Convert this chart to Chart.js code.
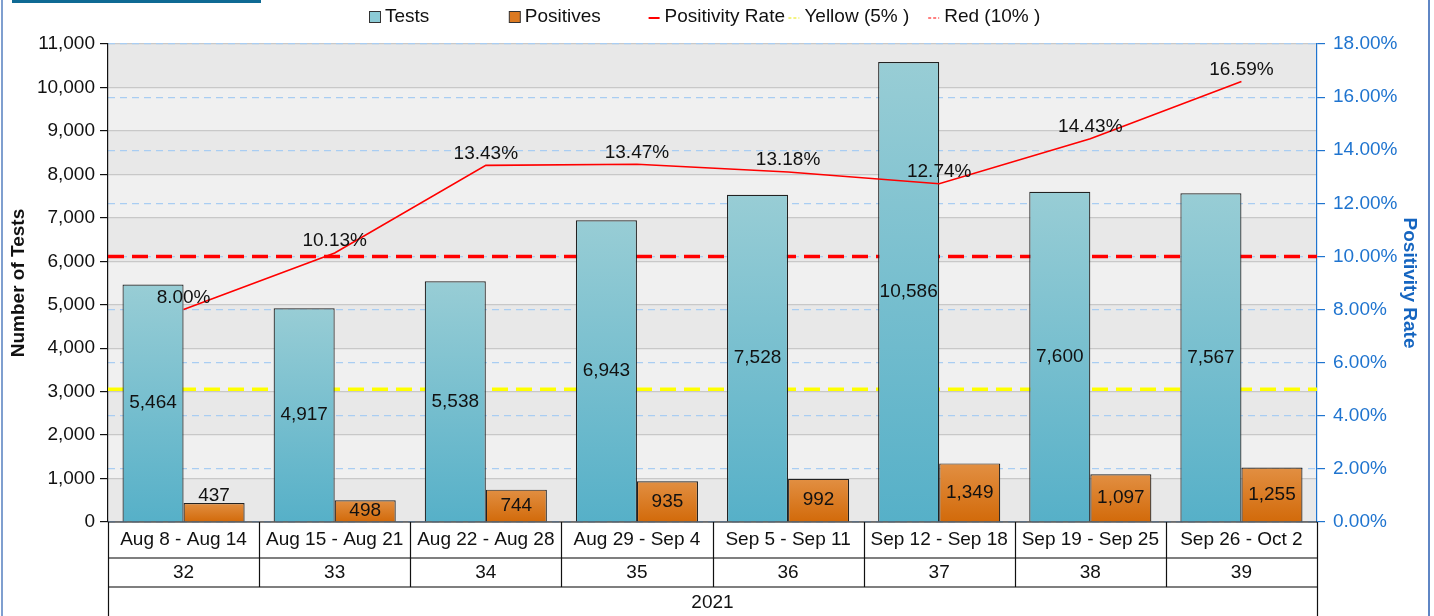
<!DOCTYPE html>
<html>
<head>
<meta charset="utf-8">
<script src="https://cdn.jsdelivr.net/npm/chart.js@4.4.1/dist/chart.umd.min.js"></script>
<style>
  html, body { margin: 0; padding: 0; background: #fff; }
  #wrap { position: relative; width: 1434px; height: 616px; overflow: hidden; }
  #topbar { position: absolute; left: 12px; top: 0; width: 249px; height: 3px; background: #0f6a94; }
  #lframe { position: absolute; left: 1px; top: 0; width: 2px; height: 616px; background: #7f9fcf; }
  #rframe { position: absolute; left: 1428px; top: 0; width: 2px; height: 616px; background: #5f86c4; }
</style>
</head>
<body>
<div id="wrap">
  <canvas id="mychart" width="1434" height="616"></canvas>
  <div id="topbar"></div>
  <div id="lframe"></div>
  <div id="rframe"></div>
</div>
<script>
// chart data
const weekRanges = ["Aug 8 - Aug 14", "Aug 15 - Aug 21", "Aug 22 - Aug 28", "Aug 29 - Sep 4",
                    "Sep 5 - Sep 11", "Sep 12 - Sep 18", "Sep 19 - Sep 25", "Sep 26 - Oct 2"]
const weekNumbers = ["32", "33", "34", "35", "36", "37", "38", "39"]
const yearLabel = "2021"
const tests = [5464, 4917, 5538, 6943, 7528, 10586, 7600, 7567]
const positives = [437, 498, 744, 935, 992, 1349, 1097, 1255]
const positivityRate = [8.00, 10.13, 13.43, 13.47, 13.18, 12.74, 14.43, 16.59]
const thresholdLabels = ["Yellow (5% )", "Red (10% )"]
const thresholdValues = [5, 10]

const FONT = "'Liberation Sans', Arial, sans-serif"
const FS = 19
const BLUE = "#1f74cf"
const thresholdColors = ["#ffff00", "#ff0000"]

// per bar vertical gradient
function barGradient(top, bottom) {
    return function(ctx) {
        const chart = ctx.chart
        if (!chart.chartArea || ctx.type !== 'data') return bottom
        const y = chart.scales.y
        const y0 = y.getPixelForValue(ctx.raw)
        const y1 = y.getPixelForValue(0)
        if (!isFinite(y0) || Math.abs(y1 - y0) < 1) return bottom
        const g = chart.ctx.createLinearGradient(0, y0, 0, y1)
        g.addColorStop(0, top)
        g.addColorStop(1, bottom)
        return g
    }
}

// alternating grey bands behind the plot
const bandsPlugin = {
    id: 'bands',
    beforeDraw(chart) {
        const {ctx, chartArea, scales} = chart
        const ticks = scales.y.ticks
        ctx.save()
        for (let i = 0; i < ticks.length - 1; i++) {
            const yb = scales.y.getPixelForValue(ticks[i].value)
            const yt = scales.y.getPixelForValue(ticks[i + 1].value)
            ctx.fillStyle = i % 2 === 0 ? "#e8e8e8" : "#f0f0f0"
            ctx.fillRect(chartArea.left, yt, chartArea.right - chartArea.left, yb - yt)
        }
        ctx.restore()
    }
}

// yellow/red threshold lines across the full plot width
const thresholdPlugin = {
    id: 'thresholds',
    beforeDatasetsDraw(chart) {
        const {ctx, chartArea, scales} = chart
        ctx.save()
        thresholdValues.forEach((v, i) => {
            const y = scales.y1.getPixelForValue(v)
            ctx.strokeStyle = thresholdColors[i]
            ctx.lineWidth = 3.5
            ctx.setLineDash([16, 8])
            ctx.beginPath()
            ctx.moveTo(chartArea.left, y)
            ctx.lineTo(chartArea.right, y)
            ctx.stroke()
        })
        ctx.restore()
    }
}

// value labels on bars and on the line
const labelsPlugin = {
    id: 'valueLabels',
    afterDatasetsDraw(chart) {
        const {ctx} = chart
        ctx.save()
        ctx.font = FS + "px " + FONT
        ctx.fillStyle = "#111"
        ctx.textAlign = "center"
        ctx.textBaseline = "middle"
        ;[0, 1].forEach(di => {
            const meta = chart.getDatasetMeta(di)
            const vals = chart.data.datasets[di].data
            meta.data.forEach((bar, i) => {
                const h = bar.base - bar.y
                let y = (bar.y + bar.base) / 2
                if (h < 20) y = bar.y - 7
                ctx.fillText(vals[i].toLocaleString('en-US'), bar.x, y)
            })
        })
        const lm = chart.getDatasetMeta(2)
        lm.data.forEach((pt, i) => {
            ctx.fillText(positivityRate[i].toFixed(2) + "%", pt.x, pt.y - 12)
        })
        ctx.restore()
    }
}

// category table under the x axis
const tablePlugin = {
    id: 'catTable',
    afterDraw(chart) {
        const {ctx, chartArea, scales} = chart
        const x = scales.x
        const L = chartArea.left, R = chartArea.right, top = chartArea.bottom
        const r1 = top + 36, r2 = top + 65, bottom = chart.height
        const n = weekRanges.length
        const step = (R - L) / n
        ctx.save()
        ctx.strokeStyle = "#555"
        ctx.lineWidth = 1.5
        ctx.beginPath()
        ctx.moveTo(L, r1); ctx.lineTo(R, r1)
        ctx.moveTo(L, r2); ctx.lineTo(R, r2)
        ctx.stroke()
        ctx.strokeStyle = "#111"
        ctx.lineWidth = 1.2
        ctx.beginPath()
        ctx.moveTo(L, top); ctx.lineTo(R, top)
        for (let i = 0; i <= n; i++) {
            const xx = Math.round(L + i * step) + 0.5
            ctx.moveTo(xx, top)
            ctx.lineTo(xx, (i === 0 || i === n) ? bottom : r2)
        }
        ctx.stroke()
        ctx.font = FS + "px " + FONT
        ctx.fillStyle = "#111"
        ctx.textAlign = "center"
        ctx.textBaseline = "middle"
        for (let i = 0; i < n; i++) {
            const cx = x.getPixelForValue(i)
            ctx.fillText(weekRanges[i], cx, top + 18)
            ctx.fillText(weekNumbers[i], cx, r1 + 15)
        }
        ctx.fillText(yearLabel, (L + R) / 2, r2 + 16)
        ctx.restore()
    }
}

// legend on a fixed grid like the original
const legendPlugin = {
    id: 'fixedLegend',
    afterDraw(chart) {
        const {ctx} = chart
        const items = [
            {text: chart.data.datasets[0].label, type: 'box', fill: "#8ccbd6"},
            {text: chart.data.datasets[1].label, type: 'box', fill: "#dc7a22"},
            {text: chart.data.datasets[2].label, type: 'line', color: "#ff0000", dash: []},
            {text: thresholdLabels[0], type: 'line', color: "#e8e800", dash: [3, 2]},
            {text: thresholdLabels[1], type: 'line', color: "#ff0000", dash: [3, 2]}
        ]
        const y = 17
        ctx.save()
        ctx.font = FS + "px " + FONT
        ctx.textBaseline = "middle"
        ctx.textAlign = "left"
        items.forEach((it, i) => {
            const x0 = 369 + i * 139.8
            if (it.type === 'box') {
                ctx.fillStyle = it.fill
                ctx.fillRect(x0 + 0.5, y - 5.5, 11, 11)
                ctx.strokeStyle = "#333"
                ctx.lineWidth = 1
                ctx.strokeRect(x0 + 0.5, y - 5.5, 11, 11)
            } else {
                ctx.strokeStyle = it.color
                ctx.lineWidth = it.dash.length ? 1 : 2
                ctx.setLineDash(it.dash)
                ctx.beginPath()
                ctx.moveTo(x0, y + 1)
                ctx.lineTo(x0 + 11, y + 1)
                ctx.stroke()
                ctx.setLineDash([])
            }
            ctx.fillStyle = "#111"
            ctx.fillText(it.text, x0 + 16, y)
        })
        ctx.restore()
    }
}

const mychart = document.getElementById("mychart").getContext('2d')
const chart = new Chart(mychart, {
    type: 'bar',
    data: {
        labels: weekRanges,
        datasets: [
            {
                label: "Tests",
                data: tests,
                backgroundColor: barGradient("#98cdd5", "#56b0c8"),
                borderColor: "#222",
                borderWidth: 1.2,
                categoryPercentage: 0.808,
                barPercentage: 1.0,
                yAxisID: 'y',
                order: 2
            },
            {
                label: "Positives",
                data: positives,
                backgroundColor: barGradient("#e28f42", "#d26a0a"),
                borderColor: "#222",
                borderWidth: 1.2,
                categoryPercentage: 0.808,
                barPercentage: 1.0,
                yAxisID: 'y',
                order: 2
            },
            {
                type: 'line',
                label: "Positivity Rate",
                data: positivityRate,
                borderColor: "#ff0000",
                borderWidth: 1.6,
                pointRadius: 0,
                tension: 0,
                fill: false,
                yAxisID: 'y1',
                order: 1
            }
        ]
    },
    options: {
        responsive: false,
        animation: false,
        layout: { padding: { top: 44, left: 0, right: 0, bottom: 0 } },
        plugins: {
            legend: { display: false },
            tooltip: { enabled: false }
        },
        scales: {
            x: {
                grid: { display: false },
                border: { display: false },
                ticks: { display: false },
                afterFit(scale) { scale.height = 94 }
            },
            y: {
                position: 'left',
                min: 0,
                max: 11000,
                ticks: {
                    stepSize: 1000,
                    color: "#111",
                    padding: 5,
                    font: { family: FONT, size: FS },
                    callback: v => v.toLocaleString('en-US')
                },
                grid: { color: "#c8c8c8", lineWidth: 1.2, tickColor: "#111", tickLength: 8 },
                border: { color: "#111", width: 1.2 },
                title: {
                    display: true,
                    text: "Number of Tests",
                    color: "#111",
                    padding: { top: 7, bottom: 0 },
                    font: { family: FONT, size: FS, weight: 'bold' }
                },
                afterFit(scale) { scale.width = 108 }
            },
            y1: {
                position: 'right',
                min: 0,
                max: 18,
                ticks: {
                    stepSize: 2,
                    color: BLUE,
                    padding: 8,
                    font: { family: FONT, size: FS },
                    callback: v => v.toFixed(2) + "%"
                },
                grid: { color: "#a9cdf2", lineWidth: 1.2, tickColor: BLUE, tickLength: 8, tickBorderDash: [] },
                border: { color: BLUE, width: 1.2, dash: [7, 5] },
                title: {
                    display: true,
                    text: "Positivity Rate",
                    color: "#1565c0",
                    padding: { top: 13, bottom: 0 },
                    font: { family: FONT, size: FS, weight: 'bold' }
                },
                afterFit(scale) { scale.width = 1434 - 1317 }
            }
        }
    },
    plugins: [bandsPlugin, thresholdPlugin, labelsPlugin, tablePlugin, legendPlugin]
})
</script>
</body>
</html>
